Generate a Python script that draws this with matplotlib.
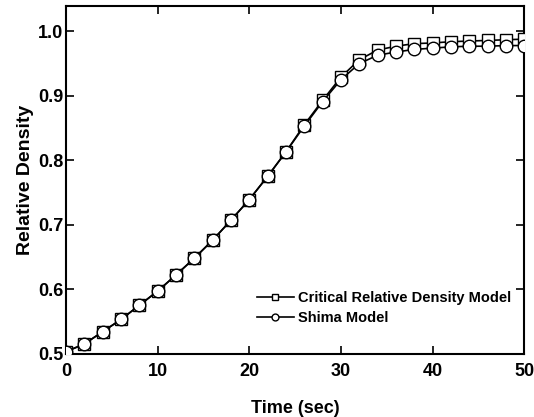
import numpy as np
import matplotlib
matplotlib.use("Agg")
import matplotlib.pyplot as plt

plt.rcParams['font.family'] = ['Liberation Sans', 'DejaVu Sans']
plt.rcParams['font.weight'] = 'bold'

# time in seconds, one point every 2 s
time = [0, 2, 4, 6, 8, 10, 12, 14, 16, 18, 20, 22, 24, 26, 28, 30, 32, 34, 36, 38, 40, 42, 44, 46, 48, 50]
critical = [0.503, 0.515, 0.534, 0.553, 0.575, 0.597, 0.622, 0.648, 0.676, 0.707, 0.739, 0.775, 0.813,
            0.855, 0.893, 0.929, 0.956, 0.971, 0.977, 0.981, 0.982, 0.984, 0.985, 0.986, 0.987, 0.988]
shima = [0.503, 0.515, 0.534, 0.553, 0.575, 0.597, 0.622, 0.648, 0.676, 0.707, 0.739, 0.775, 0.813,
         0.853, 0.891, 0.925, 0.950, 0.963, 0.968, 0.972, 0.974, 0.976, 0.977, 0.977, 0.978, 0.978]

fig = plt.figure(figsize=(5.34, 4.17), dpi=100)
ax = fig.add_axes([0.1236, 0.152, 0.858, 0.833])

ax.plot(time, critical, color='black', lw=1.2, marker='s', ms=8, mfc='white', mec='black', mew=1.0,
        label='Critical Relative Density Model', zorder=3)
ax.plot(time, shima, color='black', lw=1.2, marker='o', ms=9, mfc='white', mec='black', mew=1.0,
        label='Shima Model', zorder=4)

ax.set_xlim(0, 50)
ax.set_ylim(0.5, 1.039)
ax.set_xticks([0, 10, 20, 30, 40, 50])
ax.set_yticks([0.5, 0.6, 0.7, 0.8, 0.9, 1.0])
ax.set_yticklabels(['0.5', '0.6', '0.7', '0.8', '0.9', '1.0'])
ax.tick_params(direction='in', top=True, right=True, length=5.5, width=1.2, labelsize=13)
ax.tick_params(axis='x', pad=7)
ax.tick_params(axis='y', pad=2)
for s in ax.spines.values():
    s.set_linewidth(1.5)

ax.set_xlabel('Time (sec)', fontsize=13, fontweight='bold', labelpad=14)
ax.set_ylabel('Relative Density', fontsize=14, fontweight='bold', labelpad=3)

ax.legend(loc='lower right', bbox_to_anchor=(1.0, 0.044), frameon=False, markerscale=0.55,
          fontsize=10.5, handlelength=2.5, handletextpad=0.3, labelspacing=0.4)

fig.savefig('out.png', dpi=100)
